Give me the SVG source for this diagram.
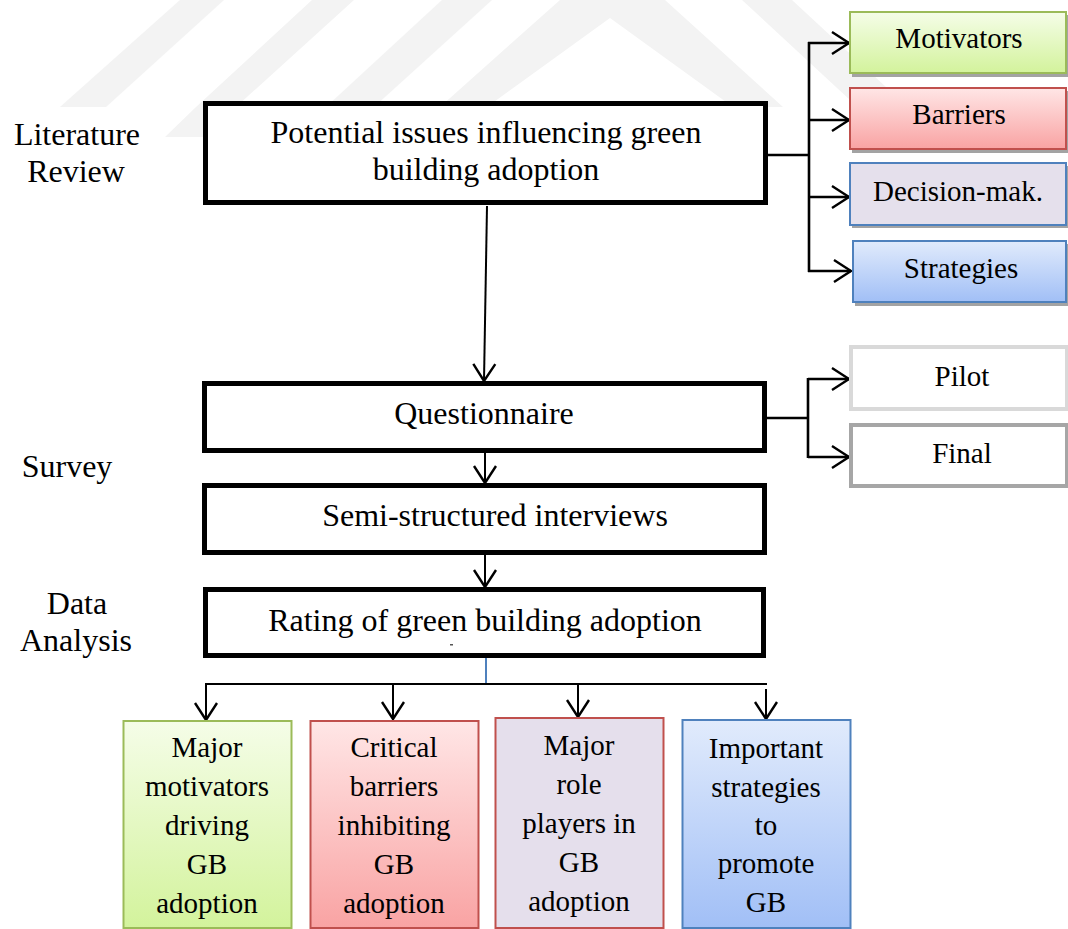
<svg xmlns="http://www.w3.org/2000/svg" width="1068" height="929" viewBox="0 0 1068 929">
  <defs>
    <style>
      text { font-family: "Liberation Serif", "Times New Roman", serif; fill: #000; text-anchor: middle; }
      .big { font-size: 32px; }
      .mid { font-size: 29px; }
      .main { fill: #fff; stroke: #000; stroke-width: 5; }
      .wire { fill: none; stroke: #000; stroke-width: 2; }
      .wire3 { fill: none; stroke: #000; stroke-width: 2.6; }
      .shadow { fill: #a3a3a3; }
      .wm { fill: #f3f3f3; }
    </style>
    <marker id="vee" markerUnits="userSpaceOnUse" markerWidth="22" markerHeight="26" viewBox="0 0 22 26" refX="19" refY="13" orient="auto">
      <path d="M2,2 L19,13 L2,24" fill="none" stroke="#000" stroke-width="2.4"/>
    </marker>
    <linearGradient id="gGreen" x1="0" y1="0" x2="0" y2="1">
      <stop offset="0" stop-color="#f5fde8"/>
      <stop offset="1" stop-color="#d3f39c"/>
    </linearGradient>
    <linearGradient id="gRed" x1="0" y1="0" x2="0" y2="1">
      <stop offset="0" stop-color="#ffe6e6"/>
      <stop offset="1" stop-color="#f9a3a3"/>
    </linearGradient>
    <linearGradient id="gBlue" x1="0" y1="0" x2="0" y2="1">
      <stop offset="0" stop-color="#e1ebfc"/>
      <stop offset="1" stop-color="#a1bff6"/>
    </linearGradient>
  </defs>

  <rect width="1068" height="929" fill="#fff"/>

  <!-- faint background logo stripes -->
  <g id="backdrop">
    <polygon class="wm" points="180,0 224,0 106,107 60,107"/>
    <polygon class="wm" points="312,0 354,0 236,107 205,137 165,137 196,107"/>
    <polygon class="wm" points="442,0 492,0 374,107 326,107"/>
    <polygon class="wm" points="560,0 665,0 783,107 733,107 610,18 487,107 440,107"/>
    <polygon class="wm" points="742,0 792,0 900,100 850,100"/>
  </g>

  <!-- stage labels -->
  <g id="stage-labels">
    <text class="big" x="77" y="145">Literature</text>
    <text class="big" x="76" y="182">Review</text>
    <text class="big" x="67" y="477">Survey</text>
    <text class="big" x="77" y="614">Data</text>
    <text class="big" x="76" y="651">Analysis</text>
  </g>

  <!-- connectors -->
  <g id="connectors">
    <!-- literature review branch -->
    <path class="wire3" d="M768,155 H809 M809,42 V272"/>
    <path class="wire3" d="M808,43 H849" marker-end="url(#vee)"/>
    <path class="wire3" d="M808,120 H849" marker-end="url(#vee)"/>
    <path class="wire3" d="M808,197 H849" marker-end="url(#vee)"/>
    <path class="wire3" d="M808,271 H851" marker-end="url(#vee)"/>
    <!-- main flow -->
    <path class="wire" d="M487,206 L484,381" marker-end="url(#vee)"/>
    <path class="wire" d="M485,453 V483" marker-end="url(#vee)"/>
    <path class="wire" d="M485,555 V587" marker-end="url(#vee)"/>
    <!-- survey branch -->
    <path class="wire3" d="M767,418 H808 M808,378 V458"/>
    <path class="wire3" d="M808,379 H849" marker-end="url(#vee)"/>
    <path class="wire3" d="M808,457 H849" marker-end="url(#vee)"/>
    <!-- analysis outputs -->
    <path d="M486,658 V684" fill="none" stroke="#4f81bd" stroke-width="2"/>
    <path class="wire" d="M205,684 H767"/>
    <path class="wire" d="M206,684 V720" marker-end="url(#vee)"/>
    <path class="wire" d="M393,684 V719" marker-end="url(#vee)"/>
    <path class="wire" d="M578,684 V717" marker-end="url(#vee)"/>
    <path class="wire" d="M766,689 V719" marker-end="url(#vee)"/>
  </g>

  <!-- main process boxes -->
  <g id="potential-issues">
    <rect class="main" x="205.5" y="103.5" width="560" height="99"/>
    <text class="big" x="486" y="143">Potential issues influencing green</text>
    <text class="big" x="486" y="180">building adoption</text>
  </g>
  <g id="questionnaire">
    <rect class="main" x="204.5" y="383.5" width="560" height="67"/>
    <text class="big" x="484" y="424">Questionnaire</text>
  </g>
  <g id="interviews">
    <rect class="main" x="204.5" y="485.5" width="560" height="67"/>
    <text class="big" x="495" y="526">Semi-structured interviews</text>
  </g>
  <g id="rating">
    <rect class="main" x="205.5" y="589.5" width="558" height="66"/>
    <text class="big" x="485" y="631">Rating of green building adoption</text>
    <rect x="450" y="644" width="3" height="1.5" fill="#555"/>
  </g>

  <!-- literature review topics -->
  <g id="motivators">
    <rect class="shadow" x="852" y="15" width="216" height="62"/>
    <rect x="850" y="12" width="216" height="61" fill="url(#gGreen)" stroke="#9bbb59" stroke-width="2"/>
    <text class="mid" x="959" y="48">Motivators</text>
  </g>
  <g id="barriers">
    <rect class="shadow" x="852" y="91" width="216" height="62"/>
    <rect x="850" y="88" width="216" height="61" fill="url(#gRed)" stroke="#c0504d" stroke-width="2"/>
    <text class="mid" x="959" y="124">Barriers</text>
  </g>
  <g id="decision-making">
    <rect class="shadow" x="852" y="166" width="216" height="62"/>
    <rect x="850" y="163" width="216" height="62" fill="#e5e0ec" stroke="#4f81bd" stroke-width="2"/>
    <text class="mid" x="958" y="201">Decision-mak.</text>
  </g>
  <g id="strategies">
    <rect class="shadow" x="855" y="244" width="213" height="62"/>
    <rect x="853" y="241" width="213" height="61" fill="url(#gBlue)" stroke="#4f81bd" stroke-width="2"/>
    <text class="mid" x="961" y="278">Strategies</text>
  </g>

  <!-- survey stages -->
  <g id="pilot">
    <rect x="851" y="347" width="216" height="62" fill="#fff" stroke="#d9d9d9" stroke-width="4"/>
    <text class="mid" x="962" y="386">Pilot</text>
  </g>
  <g id="final">
    <rect x="851" y="425" width="216" height="61" fill="#fff" stroke="#a6a6a6" stroke-width="4"/>
    <text class="mid" x="962" y="463">Final</text>
  </g>

  <!-- analysis results -->
  <g id="result-motivators">
    <rect x="123.5" y="721" width="168" height="207" fill="url(#gGreen)" stroke="#9bbb59" stroke-width="2"/>
    <text class="mid" x="207" y="757">Major</text>
    <text class="mid" x="207" y="796">motivators</text>
    <text class="mid" x="207" y="835">driving</text>
    <text class="mid" x="207" y="874">GB</text>
    <text class="mid" x="207" y="913">adoption</text>
  </g>
  <g id="result-barriers">
    <rect x="310.5" y="721" width="168" height="207" fill="url(#gRed)" stroke="#c0504d" stroke-width="2"/>
    <text class="mid" x="394" y="757">Critical</text>
    <text class="mid" x="394" y="796">barriers</text>
    <text class="mid" x="394" y="835">inhibiting</text>
    <text class="mid" x="394" y="874">GB</text>
    <text class="mid" x="394" y="913">adoption</text>
  </g>
  <g id="result-role-players">
    <rect x="495.5" y="718" width="168" height="210" fill="#e5dfec" stroke="#c0504d" stroke-width="2"/>
    <text class="mid" x="579" y="755">Major</text>
    <text class="mid" x="579" y="794">role</text>
    <text class="mid" x="579" y="833">players in</text>
    <text class="mid" x="579" y="872">GB</text>
    <text class="mid" x="579" y="911">adoption</text>
  </g>
  <g id="result-strategies">
    <rect x="682.5" y="720" width="168" height="208" fill="url(#gBlue)" stroke="#4f81bd" stroke-width="2"/>
    <text class="mid" x="766" y="758">Important</text>
    <text class="mid" x="766" y="797">strategies</text>
    <text class="mid" x="766" y="835">to</text>
    <text class="mid" x="766" y="873">promote</text>
    <text class="mid" x="766" y="912">GB</text>
  </g>
</svg>
